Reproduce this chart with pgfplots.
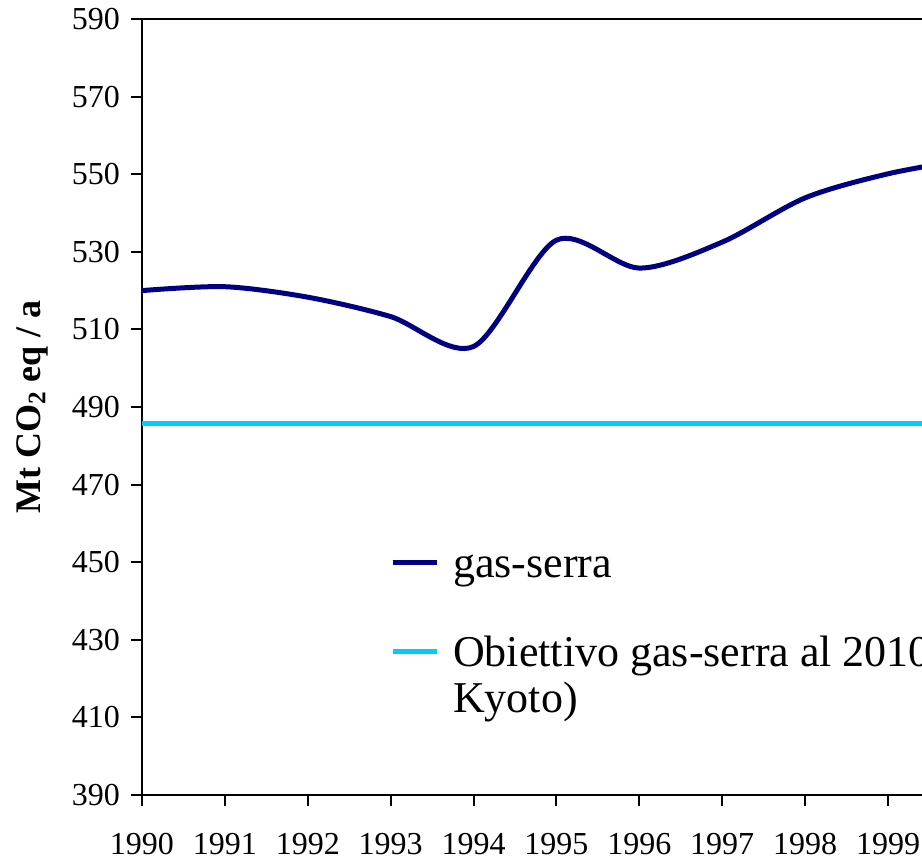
\documentclass[border=0pt]{standalone}
\usepackage{pgfplots}
\pgfplotsset{compat=1.18}
\usepackage{fontspec}
\setmainfont{Liberation Serif}
\definecolor{navyline}{RGB}{0,0,128}
\definecolor{cyanline}{RGB}{0,204,255}
\begin{document}
\begin{tikzpicture}
\begin{axis}[
  name=ax,
  scale only axis,
  width=390pt, height=388pt,
  xmin=1990, xmax=1999.41,
  ymin=390, ymax=590,
  axis lines*=left,
  axis line style={line width=1pt, black},
  tick style={line width=1pt, black},
  tick align=outside,
  major tick length=5.5pt,
  xtick={1990,1991,...,1999},
  ytick={390,410,...,590},
  /pgf/number format/assume math mode=true,
  /pgf/number format/1000 sep={},
  tick label style={font=\fontsize{16}{18}\selectfont},
  x tick label style={yshift=-10pt},
  y tick label style={xshift=-2pt},
  every axis y label/.style={at={(axis description cs:-0.141,0.5)}, rotate=90, anchor=center},
  ylabel={\fontsize{18}{20}\selectfont\bfseries Mt CO\textsubscript{2} eq / a},
  legend style={at={(rel axis cs:0.310,0.320)}, anchor=north west, draw=none, fill=none,
    font=\fontsize{22}{23}\selectfont, row sep=23pt, column sep=5pt, cells={anchor=base west}},
  legend image code/.code={\draw[#1] (0pt,7.5pt) -- (22pt,7.5pt);},
]
\addplot[navyline, line width=2.5pt, smooth] coordinates {
  (1990,520) (1991,521) (1992,518.3) (1993,513.3) (1994,505.6)
  (1995,533) (1996,525.8) (1997,532.5) (1998,543.9) (1999,550.1) (2000,554)
};
\addlegendentry{gas-serra}
\addplot[cyanline, line width=2.5pt] coordinates {(1990,485.7) (2000,485.7)};
\addlegendentry{\begin{tabular}[t]{@{}l@{}}Obiettivo gas-serra al 2010 (\\Kyoto)\end{tabular}}
\draw[line width=1pt] (rel axis cs:0,1) -- (rel axis cs:1,1);
\end{axis}
\pgfresetboundingbox
\useasboundingbox ([xshift=-71pt,yshift=-30.5pt]ax.south west) rectangle ([yshift=9.5pt]ax.north east);
\end{tikzpicture}
\end{document}
